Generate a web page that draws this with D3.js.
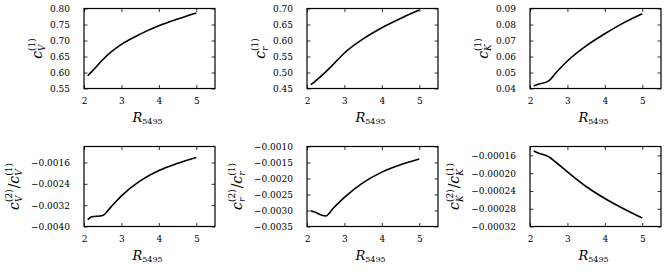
<!DOCTYPE html>
<html>
<head>
<meta charset="utf-8">
<script src="https://cdn.jsdelivr.net/npm/d3@7"></script>
<style>
  body { margin: 0; background: #fff; }
  svg { display: block; }
</style>
</head>
<body>
<div id="chart"></div>
<script>
(function () {

// R5495 values where the curves were sampled
var rValues = [2.1, 2.2, 2.5, 2.7, 3.0, 3.5, 4.0, 4.5, 5.0];
var xTicks = [2, 3, 4, 5];

// first order coefficients
var cV1 = [0.590, 0.602, 0.640, 0.662, 0.688, 0.720, 0.746, 0.767, 0.786];
var cr1 = [0.462, 0.471, 0.502, 0.525, 0.561, 0.605, 0.640, 0.669, 0.695];
var cK1 = [0.0417, 0.0425, 0.0448, 0.0500, 0.0572, 0.0666, 0.0742, 0.0810, 0.0867];

// second order / first order ratios
var cV2ratio = [-0.00374, -0.00364, -0.00359, -0.00330, -0.00285, -0.00229, -0.00190, -0.00163, -0.00141];
var cr2ratio = [-0.00301, -0.00305, -0.00317, -0.00293, -0.00259, -0.00213, -0.00180, -0.00157, -0.00139];
var cK2ratio = [-0.000150, -0.000154, -0.000163, -0.000176, -0.000197, -0.000230, -0.000257, -0.000280, -0.000301];

// tick labels of every y axis
var ticksV1 = ["0.55", "0.60", "0.65", "0.70", "0.75", "0.80"];
var ticksr1 = ["0.45", "0.50", "0.55", "0.60", "0.65", "0.70"];
var ticksK1 = ["0.04", "0.05", "0.06", "0.07", "0.08", "0.09"];
var ticksV2 = ["-0.0040", "-0.0032", "-0.0024", "-0.0016"];
var ticksr2 = ["-0.0035", "-0.0030", "-0.0025", "-0.0020", "-0.0015", "-0.0010"];
var ticksK2 = ["-0.00032", "-0.00028", "-0.00024", "-0.00020", "-0.00016"];

var panels = [
  { values: cV1, yDomain: [0.55, 0.80], ticks: ticksV1, sub: "V", ratio: false },
  { values: cr1, yDomain: [0.45, 0.70], ticks: ticksr1, sub: "r", ratio: false },
  { values: cK1, yDomain: [0.04, 0.09], ticks: ticksK1, sub: "K", ratio: false },
  { values: cV2ratio, yDomain: [-0.0040, -0.0010], ticks: ticksV2, sub: "V", ratio: true },
  { values: cr2ratio, yDomain: [-0.0035, -0.0010], ticks: ticksr2, sub: "r", ratio: true },
  { values: cK2ratio, yDomain: [-0.00032, -0.00014], ticks: ticksK2, sub: "K", ratio: true }
];

var cols = [84, 307, 530];
var rows = [8.5, 146.5];
var boxW = 131;
var boxH = 80;
var tickFont = "'DejaVu Serif', serif";

var svg = d3.select("#chart")
  .append("svg")
  .attr("width", 664)
  .attr("height", 274);

function fmt(s) { return s.replace("-", "\u2212"); }

panels.forEach(function (p, i) {
  var col = i % 3, row = Math.floor(i / 3);
  var g = svg.append("g")
    .attr("transform", "translate(" + cols[col] + "," + rows[row] + ")");

  var x = d3.scaleLinear().domain([2, 5.5]).range([0, boxW]);
  var y = d3.scaleLinear().domain(p.yDomain).range([boxH, 0]);
  var yTickVals = p.ticks.map(Number);

  // bottom axis with labels, ticks pointing inward
  g.append("g")
    .attr("transform", "translate(0," + boxH + ")")
    .call(d3.axisBottom(x).tickValues(xTicks).tickSizeInner(-3.5).tickSizeOuter(0).tickPadding(9)
      .tickFormat(d3.format("d")));
  // top axis, ticks only
  g.append("g")
    .call(d3.axisTop(x).tickValues(xTicks).tickSizeInner(-3.5).tickSizeOuter(0).tickFormat(""));
  // left axis with labels
  var left = g.append("g")
    .call(d3.axisLeft(y).tickValues(yTickVals).tickSizeInner(-3.5).tickSizeOuter(0).tickPadding(14)
      .tickFormat(function (d, k) { return fmt(p.ticks[k]); }));
  // right axis, ticks only
  g.append("g")
    .attr("transform", "translate(" + boxW + ",0)")
    .call(d3.axisRight(y).tickValues(yTickVals).tickSizeInner(-3.5).tickSizeOuter(0).tickFormat(""));

  g.selectAll(".domain").remove();
  g.selectAll(".tick line").attr("stroke", "#000").attr("stroke-width", 0.8);
  g.selectAll(".tick text")
    .style("font-family", tickFont)
    .style("font-size", "9px")
    .attr("fill", "#000");

  // frame
  g.append("rect")
    .attr("width", boxW)
    .attr("height", boxH)
    .attr("fill", "none")
    .attr("stroke", "#000")
    .attr("stroke-width", 1.2);

  // the curve
  var line = d3.line()
    .x(function (d, k) { return x(rValues[k]); })
    .y(function (d) { return y(d); })
    .curve(d3.curveMonotoneX);

  g.append("path")
    .datum(p.values)
    .attr("fill", "none")
    .attr("stroke", "#000")
    .attr("stroke-width", 1.6)
    .attr("stroke-linejoin", "round")
    .attr("d", line);

  // x label R_5495
  var xl = g.append("text")
    .attr("x", boxW / 2 - 2)
    .attr("y", boxH + 33)
    .attr("text-anchor", "middle")
    .style("font-family", tickFont)
    .attr("fill", "#000");
  xl.append("tspan").style("font-style", "italic").style("font-size", "13px").text("R");
  xl.append("tspan").style("font-size", "8px").attr("dy", 2.5).text("5495");

  // y label c_X^(1) or c_X^(2)/c_X^(1)
  var tickLeft = d3.min(left.selectAll(".tick text").nodes(), function (n) {
    return n.getBBox().x;
  });
  var lx = tickLeft - (p.ratio ? 12 : 8);
  var yl = g.append("text")
    .attr("transform", "translate(" + lx + "," + (boxH / 2) + ") rotate(-90)")
    .attr("text-anchor", "middle")
    .style("font-family", tickFont)
    .attr("fill", "#000");

  // one coefficient: c with subscript letter and superscript order stacked
  function addCoef(order, dy) {
    yl.append("tspan").style("font-style", "italic").style("font-size", "14px")
      .attr("dy", dy).text("c");
    var s = yl.append("tspan").style("font-style", "italic").style("font-size", "9px")
      .attr("dy", 3.5).text(p.sub);
    var w = s.node().getComputedTextLength();
    yl.append("tspan").style("font-size", "9px")
      .attr("dx", -w).attr("dy", -10).text("(" + order + ")");
  }
  if (p.ratio) {
    addCoef(2, 0);
    yl.append("tspan").style("font-size", "14px").attr("dy", 6.5).attr("dx", 1).text("/");
    addCoef(1, 0);
  } else {
    addCoef(1, 0);
  }
});

})();
</script>
</body>
</html>
